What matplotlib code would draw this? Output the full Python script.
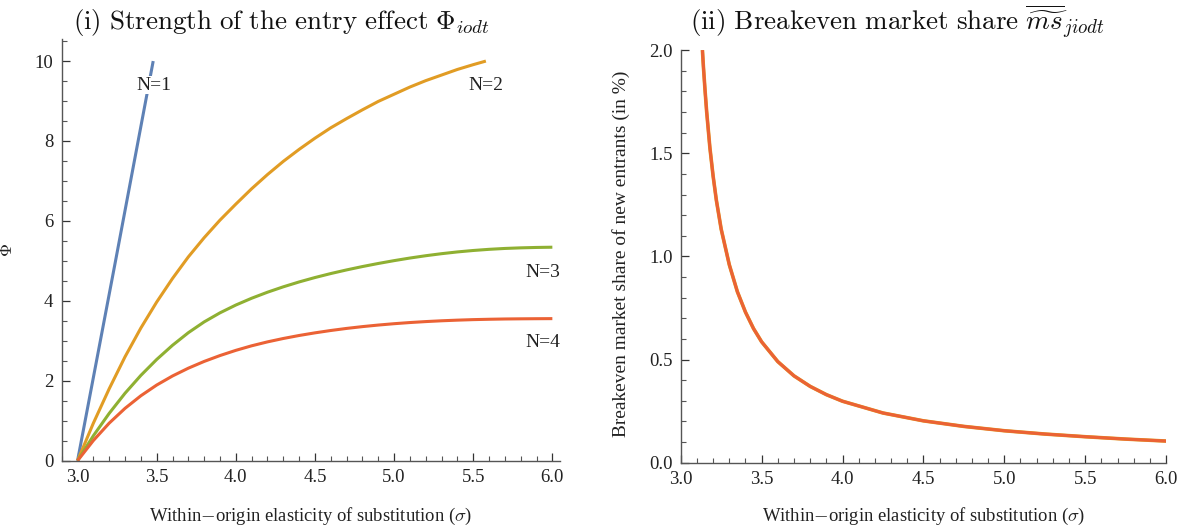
import matplotlib
matplotlib.use("Agg")
import matplotlib.pyplot as plt
from matplotlib.ticker import MultipleLocator

plt.rcParams['mathtext.fontset'] = 'cm'
plt.rcParams['font.family'] = ['Liberation Serif', 'DejaVu Serif']

# ---------------- data ----------------
sigma_n1 = [3.0, 3.24, 3.478]
phi_n1 = [0.0, 5.0, 10.0]

sigma_n2 = [3.0, 3.1, 3.2, 3.3, 3.4, 3.5, 3.6, 3.7, 3.8, 3.9, 4.0, 4.1, 4.2, 4.3, 4.4, 4.5, 4.6, 4.7, 4.8,
            4.9, 5.0, 5.1, 5.2, 5.3, 5.4, 5.5, 5.58]
phi_n2 = [0.0, 0.94, 1.80, 2.60, 3.32, 3.97, 4.56, 5.10, 5.58, 6.02, 6.42, 6.805, 7.16, 7.49, 7.79, 8.07, 8.33,
          8.56, 8.78, 8.99, 9.17, 9.35, 9.51, 9.65, 9.79, 9.91, 10.0]

sigma_n3 = [3.0, 3.1, 3.2, 3.3, 3.4, 3.5, 3.6, 3.7, 3.8, 3.9, 4.0, 4.1, 4.2, 4.3, 4.4, 4.5, 4.6, 4.7, 4.8,
            4.9, 5.0, 5.1, 5.2, 5.3, 5.4, 5.5, 5.6, 5.7, 5.8, 5.9, 6.0]
phi_n3 = [0.0, 0.625, 1.185, 1.688, 2.135, 2.533, 2.888, 3.203, 3.473, 3.70, 3.895, 4.065, 4.216, 4.351,
          4.473, 4.583, 4.683, 4.774, 4.858, 4.935, 5.006, 5.071, 5.129, 5.18, 5.224, 5.26, 5.289, 5.311,
          5.326, 5.336, 5.342]

sigma_n4 = [3.0, 3.1, 3.2, 3.3, 3.4, 3.5, 3.6, 3.7, 3.8, 3.9, 4.0, 4.1, 4.2, 4.3, 4.4, 4.5, 4.6, 4.7, 4.8,
            4.9, 5.0, 5.1, 5.2, 5.3, 5.4, 5.5, 5.6, 5.7, 5.8, 5.9, 6.0]
phi_n4 = [0.0, 0.505, 0.94, 1.31, 1.625, 1.893, 2.12, 2.315, 2.484, 2.631, 2.761, 2.875, 2.973, 3.058,
          3.133, 3.199, 3.258, 3.31, 3.355, 3.394, 3.428, 3.457, 3.481, 3.501, 3.517, 3.53, 3.539, 3.546,
          3.55, 3.553, 3.555]

curve_labels = ["N=1", "N=2", "N=3", "N=4"]
label_pos = [(3.48, 9.4), (5.58, 9.4), (5.94, 4.72), (5.94, 2.96)]

sigma_ms = [3.134, 3.14, 3.15, 3.16, 3.18, 3.20, 3.22, 3.25, 3.30, 3.35, 3.40, 3.45, 3.50, 3.60, 3.70, 3.80,
            3.90, 4.00, 4.25, 4.50, 4.75, 5.00, 5.25, 5.50, 5.75, 6.00]
ms_share = [2.0, 1.921, 1.807, 1.703, 1.528, 1.39, 1.273, 1.132, 0.96, 0.829, 0.73, 0.65, 0.586, 0.49, 0.421,
            0.37, 0.33, 0.298, 0.241, 0.203, 0.176, 0.155, 0.139, 0.126, 0.1145, 0.105]

xticks = [3.0, 3.5, 4.0, 4.5, 5.0, 5.5, 6.0]

# ---------------- style ----------------
c_blue = '#5E81B5'
c_orange = '#E19C24'
c_green = '#8FB032'
c_red = '#EB6235'
txt = '#222222'
W, H = 1187, 531

fig = plt.figure(figsize=(11.87, 5.31), dpi=100)
ax1 = fig.add_axes([0.052, 0.1324, 0.42, 0.794])
ax2 = fig.add_axes([0.5735, 0.1286, 0.4089, 0.777])

def style(ax):
    for s in ['top', 'right']:
        ax.spines[s].set_visible(False)
    for s in ['left', 'bottom']:
        ax.spines[s].set_color('#555555')
        ax.spines[s].set_linewidth(1.0)
    ax.tick_params(which='major', direction='in', length=6, width=0.9, color='#333333',
                   labelsize=13.5, labelcolor=txt, pad=6)
    ax.tick_params(which='minor', direction='in', length=3.5, width=0.8, color='#555555')
    ax.xaxis.set_minor_locator(MultipleLocator(0.1))
    ax.set_xticks(xticks)
    ax.set_xticklabels([f"{v:.1f}" for v in xticks])

lw = 2.2
ax1.plot(sigma_n1, phi_n1, color=c_blue, lw=lw, solid_capstyle='butt')
ax1.plot(sigma_n2, phi_n2, color=c_orange, lw=lw, solid_capstyle='butt')
ax1.plot(sigma_n3, phi_n3, color=c_green, lw=lw, solid_capstyle='butt')
ax1.plot(sigma_n4, phi_n4, color=c_red, lw=lw, solid_capstyle='butt')
for i, (lab, (lx, ly)) in enumerate(zip(curve_labels, label_pos)):
    kw = {}
    if i == 0:
        kw['bbox'] = dict(facecolor='white', edgecolor='none', pad=0.5)
    ax1.text(lx, ly, lab, ha='center', va='center', fontsize=14, color=txt, zorder=5, **kw)

style(ax1)
ax1.set_xlim(2.90, 6.05)
ax1.set_ylim(0, 10.55)
ax1.set_yticks([0, 2, 4, 6, 8, 10])
ax1.set_yticklabels(['0', '2', '4', '6', '8', '10'])
ax1.yaxis.set_minor_locator(MultipleLocator(0.5))
ax1.set_ylabel(r'$\Phi$', fontsize=13, color=txt)
ax1.yaxis.set_label_coords(-0.092, 0.5)
xl1 = ax1.set_xlabel(r'Within$-$origin elasticity of substitution ($\sigma$)', fontsize=14, color=txt)
ax1.xaxis.set_label_coords(0.5, -0.107)

ax2.plot(sigma_ms, ms_share, color=c_orange, lw=lw + 0.4, solid_capstyle='butt')
ax2.plot(sigma_ms, ms_share, color=c_red, lw=lw, solid_capstyle='butt')
style(ax2)
ax2.set_xlim(3.0, 6.0)
ax2.set_ylim(0, 2.0)
ax2.set_yticks([0.0, 0.5, 1.0, 1.5, 2.0])
ax2.set_yticklabels(['0.0', '0.5', '1.0', '1.5', '2.0'])
ax2.yaxis.set_minor_locator(MultipleLocator(0.1))
yl2 = ax2.set_ylabel('Breakeven market share of new entrants (in %)', fontsize=15, color=txt)
ax2.yaxis.set_label_coords(-0.104, 0.507)
xl2 = ax2.set_xlabel(r'Within$-$origin elasticity of substitution ($\sigma$)', fontsize=14, color=txt)
ax2.xaxis.set_label_coords(0.5, -0.105)

t1 = fig.text(73 / W, 1 - 29 / H, r'$\mathrm{(i)\ Strength\ of\ the\ entry\ effect}\ \Phi_{iodt}$',
              ha='left', va='baseline', fontsize=19.5, color='#111111')
t2 = fig.text(690 / W, 1 - 30 / H, r'$\mathrm{(ii)\ Breakeven\ market\ share}\ \overline{\widetilde{ms}}_{jiodt}$',
              ha='left', va='baseline', fontsize=19.5, color='#111111')

# scale text so its extent matches the reference (pixels)
fig.canvas.draw()
rend = fig.canvas.get_renderer()
def fit(t, target, dim):
    bb = t.get_window_extent(rend)
    cur = bb.width if dim == 'w' else bb.height
    if cur > 0:
        t.set_fontsize(t.get_fontsize() * target / cur)

fit(t1, 417, 'w')
fit(t2, 415, 'w')
fit(xl1, 325, 'w')
fit(xl2, 325, 'w')
fit(yl2, 367, 'h')

fig.savefig('out.png', dpi=100)
